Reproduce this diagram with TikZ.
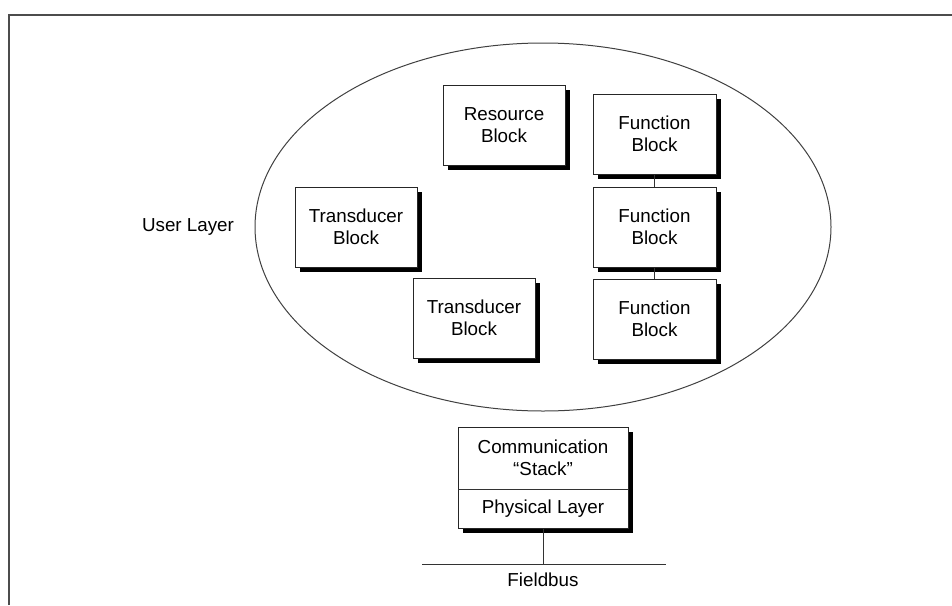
\documentclass[tikz,border=0pt]{standalone}
\usepackage{fontspec}
\setmainfont{Liberation Sans}
\usetikzlibrary{shapes.geometric,shadows}

\tikzset{
  blockbox/.style={draw=black!85, line width=1pt, fill=white,
    minimum width=122pt, minimum height=80pt, inner sep=0pt,
    align=center, text=black,
    drop shadow={shadow xshift=4.5pt, shadow yshift=-4.5pt, fill=black, opacity=1}},
  label/.style={text=black, inner sep=0pt, align=center},
  wire/.style={draw=black!80, line width=1pt},
}

\begin{document}
\begin{tikzpicture}[x=1pt, y=-1pt,
  every node/.append style={font=\fontsize{18.8}{22}\selectfont}]
  \useasboundingbox (0,0) rectangle (952,605);

  % outer frame (only top and left edges fall inside the page)
  \draw[black!70, line width=1.6pt] (9,605) -- (9,15) -- (952,15);

  % user layer
  \node[ellipse, draw=black!75, line width=1pt, minimum width=576pt,
        minimum height=368pt, inner sep=0pt] (user) at (543,227) {};
  \node[label] (userlbl) at (188,227) {User Layer};

  \node[blockbox] (res) at (504,125) {Resource\\Block};
  \node[blockbox] (tb1) at (356,227) {Transducer\\Block};
  \node[blockbox] (tb2) at (474,318) {Transducer\\Block};

  \node[blockbox, minimum width=123pt] (fb1) at (654.5,134) {Function\\Block};
  \node[blockbox, minimum width=123pt] (fb2) at (654.5,227) {Function\\Block};
  \node[blockbox, minimum width=123pt] (fb3) at (654.5,319) {Function\\Block};

  \draw[wire] (fb1.south) -- (fb2.north);
  \draw[wire] (fb2.south) -- (fb3.north);

  % communication stack with physical layer
  \node[blockbox, minimum width=170pt, minimum height=101pt] (stack) at (543,477.5) {};
  \node[label] (comm) at (543,458) {Communication\\“Stack”};
  \node[label] (phys) at (543,508.5) {Physical Layer};
  \coordinate (divL) at (458,489);
  \coordinate (divR) at (628,489);
  \draw[wire] (divL) -- (divR);

  % fieldbus
  \coordinate (busL) at (422,564);
  \coordinate (busR) at (666,564);
  \coordinate (tap) at (543,564);
  \draw[wire] (busL) -- (busR);
  \draw[wire] (stack.south) -- (tap);
  \node[label] (bus) at (543,580) {Fieldbus};
\end{tikzpicture}
\end{document}
